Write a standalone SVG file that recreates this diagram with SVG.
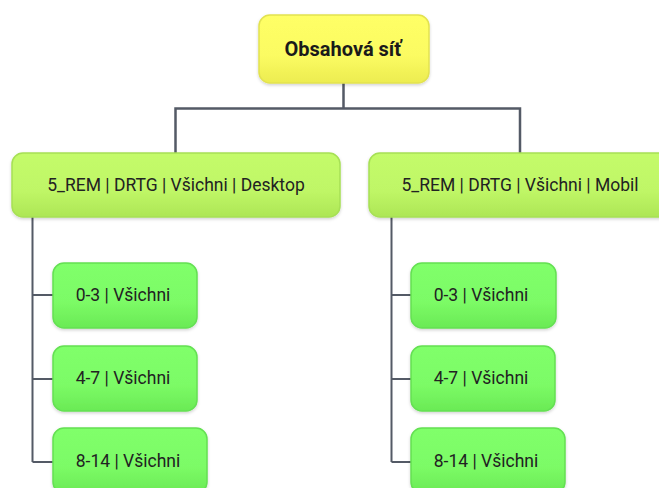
<svg xmlns="http://www.w3.org/2000/svg" width="659" height="488" viewBox="0 0 659 488">
<defs>
<linearGradient id="gY" x1="0" y1="0" x2="0" y2="1">
<stop offset="0" stop-color="#ffff66"/><stop offset="0.6" stop-color="#fbfb62"/><stop offset="1" stop-color="#ecec50"/>
</linearGradient>
<linearGradient id="gL1" x1="0" y1="0" x2="0" y2="1">
<stop offset="0" stop-color="#c4fb6a"/><stop offset="0.6" stop-color="#bff666"/><stop offset="1" stop-color="#ade655"/>
</linearGradient>
<linearGradient id="gL2" x1="0" y1="0" x2="0" y2="1">
<stop offset="0" stop-color="#80ff6a"/><stop offset="0.6" stop-color="#7cfb66"/><stop offset="1" stop-color="#6aea55"/>
</linearGradient>
<filter id="sh" x="-10%" y="-10%" width="120%" height="130%">
<feDropShadow dx="0" dy="1.5" stdDeviation="1.5" flood-color="#000" flood-opacity="0.18"/>
</filter>
</defs>
<style>
.root{fill:url(#gY);stroke:#e2e250;stroke-width:1.5;filter:url(#sh)}
.l1{fill:url(#gL1);stroke:#a6e055;stroke-width:1.5;filter:url(#sh)}
.l2{fill:url(#gL2);stroke:#64e052;stroke-width:1.5;filter:url(#sh)}
.t{font-family:Roboto,"Liberation Sans",sans-serif;font-size:17.5px;fill:#222;text-anchor:middle}
.tb{font-family:Roboto,"Liberation Sans",sans-serif;font-size:20px;font-weight:bold;fill:#1a1a1a;text-anchor:middle}
.c{fill:none;stroke:#545a66;stroke-width:2.5}
.c2{fill:none;stroke:#545a66;stroke-width:2}
</style>
<g id="connectors">
<path class="c" d="M343.5 83 V108.5 H175.5 V153 M343.5 108.5 H520 V153"/>
<path class="c2" d="M32.5 217 V462 M32.5 295 H53 M32.5 379 H53 M32.5 462 H53"/>
<path class="c2" d="M391.5 217 V462 M391.5 295 H411 M391.5 379 H411 M391.5 462 H411"/>
</g>
<g id="root">
<rect class="root" x="259" y="15" width="170" height="68" rx="11"/>
<text class="tb" x="343" y="56">Obsahová síť</text>
</g>
<g id="desktop">
<rect class="l1" x="12" y="153" width="328" height="64" rx="11"/>
<text class="t" x="176" y="191">5_REM | DRTG | Všichni | Desktop</text>
</g>
<g id="mobil">
<rect class="l1" x="369" y="153" width="302" height="64" rx="11"/>
<text class="t" x="520" y="191">5_REM | DRTG | Všichni | Mobil</text>
</g>
<g id="d03">
<rect class="l2" x="53" y="263" width="144" height="65" rx="11"/>
<text class="t" x="123" y="301">0-3 | Všichni</text>
</g>
<g id="d47">
<rect class="l2" x="53" y="346" width="144" height="65" rx="11"/>
<text class="t" x="123" y="384">4-7 | Všichni</text>
</g>
<g id="d814">
<rect class="l2" x="53" y="428" width="154" height="65" rx="11"/>
<text class="t" x="128" y="467">8-14 | Všichni</text>
</g>
<g id="m03">
<rect class="l2" x="411" y="263" width="145" height="65" rx="11"/>
<text class="t" x="481" y="301">0-3 | Všichni</text>
</g>
<g id="m47">
<rect class="l2" x="411" y="346" width="144" height="65" rx="11"/>
<text class="t" x="481" y="384">4-7 | Všichni</text>
</g>
<g id="m814">
<rect class="l2" x="411" y="428" width="154" height="65" rx="11"/>
<text class="t" x="486" y="467">8-14 | Všichni</text>
</g>
</svg>
